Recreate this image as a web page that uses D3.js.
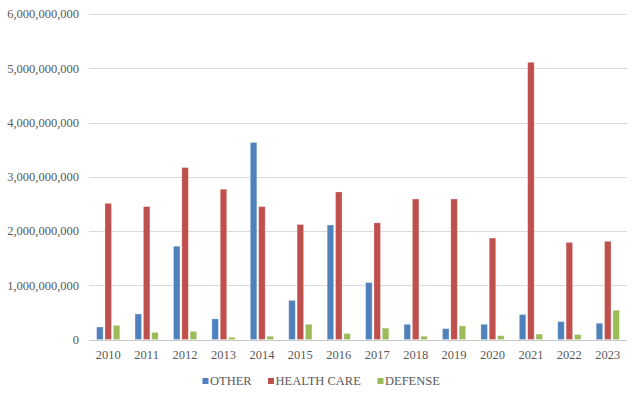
<!DOCTYPE html>
<html>
<head>
<meta charset="utf-8">
<script src="https://cdn.jsdelivr.net/npm/d3@7"></script>
<style>
  html, body { margin: 0; padding: 0; background: #fff; }
  svg { display: block; }
  text { font-family: "Liberation Serif", "Times New Roman", serif; fill: #595959; }
</style>
</head>
<body>
<svg id="chart" width="640" height="398"></svg>
<script>
// years on the x axis, three series (values in dollars)
const years = ["2010", "2011", "2012", "2013", "2014", "2015", "2016",
               "2017", "2018", "2019", "2020", "2021", "2022", "2023"];
const seriesNames = ["OTHER", "HEALTH CARE", "DEFENSE"];
const colors = ["#4F81BD", "#C0504D", "#9BBB59"];

const other = [0.23e9, 0.47e9, 1.72e9, 0.38e9, 3.63e9, 0.72e9, 2.11e9,
               1.05e9, 0.28e9, 0.20e9, 0.28e9, 0.46e9, 0.33e9, 0.30e9];
const healthCare = [2.51e9, 2.45e9, 3.17e9, 2.77e9, 2.45e9, 2.12e9, 2.72e9,
                    2.15e9, 2.59e9, 2.59e9, 1.87e9, 5.11e9, 1.79e9, 1.81e9];
const defense = [0.26e9, 0.13e9, 0.15e9, 0.04e9, 0.06e9, 0.28e9, 0.11e9,
                 0.21e9, 0.06e9, 0.25e9, 0.07e9, 0.10e9, 0.09e9, 0.54e9];
const yTicks = [0, 1e9, 2e9, 3e9, 4e9, 5e9, 6e9];

const series = [other, healthCare, defense];
const rows = years.map((y, i) => ({ year: y, values: series.map((s) => s[i]) }));

const svg = d3.select("#chart");
const plotL = 89, plotR = 627, plotT = 14, plotB = 339.5;

const x0 = d3.scaleBand().domain(years).range([plotL, plotR]).padding(0);
const groupW = 23.2;
const x1 = d3.scaleBand().domain(d3.range(3)).range([0, groupW]).paddingInner(0.22);
const y = d3.scaleLinear().domain([0, 6e9]).range([plotB, plotT]);

// gridlines
svg.append("g").selectAll("line")
  .data(yTicks)
  .join("line")
  .attr("x1", plotL).attr("x2", plotR)
  .attr("y1", (d) => Math.round(y(d)) + 0.5).attr("y2", (d) => Math.round(y(d)) + 0.5)
  .attr("stroke", (d) => (d === 0 ? "#C8C8C8" : "#D9D9D9"))
  .attr("stroke-width", 1);

// y labels
const fmt = d3.format(",");
svg.append("g").selectAll("text")
  .data(yTicks)
  .join("text")
  .attr("x", 79)
  .attr("y", (d) => y(d))
  .attr("dy", "0.35em")
  .attr("text-anchor", "end")
  .attr("font-size", 12.5)
  .text((d) => fmt(d));

// bars
const off = (x0.bandwidth() - groupW) / 2;
const groups = svg.append("g").selectAll("g")
  .data(rows)
  .join("g")
  .attr("transform", (d) => `translate(${x0(d.year) + off},0)`);

groups.selectAll("rect")
  .data((d) => d.values.map((v, k) => ({ k, v })))
  .join("rect")
  .attr("x", (d) => x1(d.k))
  .attr("width", x1.bandwidth())
  .attr("y", (d) => y(d.v))
  .attr("height", (d) => plotB - y(d.v))
  .attr("fill", (d) => colors[d.k])
  .attr("stroke", "#ffffff")
  .attr("stroke-opacity", 0.35)
  .attr("stroke-width", 0.8);

// x labels
svg.append("g").selectAll("text")
  .data(years)
  .join("text")
  .attr("x", (d) => x0(d) + x0.bandwidth() / 2)
  .attr("y", 359)
  .attr("text-anchor", "middle")
  .attr("font-size", 12.5)
  .text((d) => d);

// legend
const legendX = [202.5, 268, 377.5];
const legend = svg.append("g").selectAll("g")
  .data(seriesNames)
  .join("g")
  .attr("transform", (d, i) => `translate(${legendX[i]},381)`);
legend.append("rect")
  .attr("x", 0).attr("y", -3).attr("width", 6).attr("height", 6)
  .attr("fill", (d, i) => colors[i]);
legend.append("text")
  .attr("x", 7.5).attr("y", 0).attr("dy", "0.35em")
  .attr("font-size", 12.5)
  .text((d) => d);
</script>
</body>
</html>
